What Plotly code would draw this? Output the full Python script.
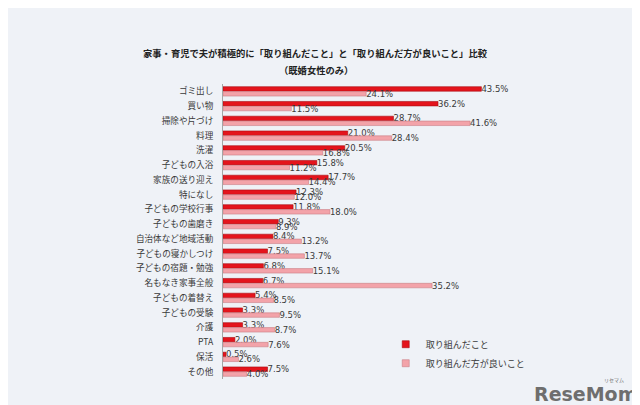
import plotly.graph_objects as go

# Data (percent)
categories = [
    "ゴミ出し", "買い物", "掃除や片づけ", "料理", "洗濯", "子どもの入浴",
    "家族の送り迎え", "特になし", "子どもの学校行事", "子どもの歯磨き",
    "自治体など地域活動", "子どもの寝かしつけ", "子どもの宿題・勉強",
    "名もなき家事全般", "子どもの着替え", "子どもの受験", "介護", "PTA",
    "保活", "その他",
]
did_values = [43.5, 36.2, 28.7, 21.0, 20.5, 15.8, 17.7, 12.3, 11.8, 9.3,
              8.4, 7.5, 6.8, 6.7, 5.4, 3.3, 3.3, 2.0, 0.5, 7.5]
better_values = [24.1, 11.5, 41.6, 28.4, 16.8, 11.2, 14.4, 12.0, 18.0, 8.9,
                 13.2, 13.7, 15.1, 35.2, 8.5, 9.5, 8.7, 7.6, 2.6, 4.0]
series_names = ["取り組んだこと", "取り組んだ方が良いこと"]

BG = "#eff2f7"
RED = "#e4141c"
PINK = "#f3a3a9"
TEXT = "#3a3a3a"
FONT = "Noto Sans CJK JP, sans-serif"
NUM_FONT = "DejaVu Sans, Noto Sans CJK JP, sans-serif"

L, R, T, B = 215, 127.5, 75.6, 33.6
W = 640 - L - R
H = 405 - T - B


def px(x, y):
    """Convert pixel position in the 640x405 canvas to paper coords."""
    return (x - L) / W, (405 - B - y) / H


fig = go.Figure()

for name, values, color, edge in [
    (series_names[0], did_values, RED, "#a80c12"),
    (series_names[1], better_values, PINK, "#c97d84"),
]:
    fig.add_trace(
        go.Bar(
            y=categories,
            x=values,
            name=name,
            orientation="h",
            showlegend=False,
            marker=dict(color=color, line=dict(color=edge, width=0.6)),
            texttemplate="%{x:.1f}%",
            textposition="outside",
            constraintext="none",
            cliponaxis=False,
            textfont=dict(family=NUM_FONT, size=8.5, color=TEXT),
        )
    )
    # small square legend markers
    fig.add_trace(
        go.Scatter(
            x=[None], y=[None], mode="markers", name=name,
            marker=dict(symbol="square", size=7, color=color,
                        line=dict(color=edge, width=0.6)),
        )
    )

# Title (two lines) and logo
tx, ty = px(308, 45)
fig.add_annotation(
    text="<b>家事・育児で夫が積極的に「取り組んだこと」と「取り組んだ方が良いこと」比較</b>",
    xref="paper", yref="paper", x=tx, y=ty, xanchor="center", yanchor="middle",
    showarrow=False, font=dict(family=FONT, size=9.3, color="#222222"),
)
tx, ty = px(308, 62)
fig.add_annotation(
    text="<b>（既婚女性のみ）</b>",
    xref="paper", yref="paper", x=tx, y=ty, xanchor="center", yanchor="middle",
    showarrow=False, font=dict(family=FONT, size=9.3, color="#222222"),
)
tx, ty = px(578, 386)
fig.add_annotation(
    text="<b>ReseMom</b>",
    xref="paper", yref="paper", x=tx, y=ty, xanchor="center", yanchor="middle",
    showarrow=False,
    font=dict(family="DejaVu Sans, sans-serif", size=19, color="#6e6e6e"),
)
tx, ty = px(607, 372)
fig.add_annotation(
    text="リセマム",
    xref="paper", yref="paper", x=tx, y=ty, xanchor="center", yanchor="middle",
    showarrow=False, font=dict(family=FONT, size=5, color="#6e6e6e"),
)

lx, ly = px(378, 322)
fig.update_layout(
    width=640,
    height=405,
    barmode="group",
    bargap=0.34,
    bargroupgap=0.08,
    paper_bgcolor=BG,
    plot_bgcolor=BG,
    margin=dict(l=L, r=R, t=T, b=B),
    font=dict(family=FONT, size=9, color=TEXT),
    showlegend=True,
    legend=dict(
        x=lx, y=ly, xanchor="left", yanchor="top",
        bgcolor="rgba(0,0,0,0)",
        font=dict(family=FONT, size=9, color=TEXT),
        itemwidth=30,
    ),
    xaxis=dict(
        range=[0, 50],
        showgrid=False, zeroline=False, showline=False,
        showticklabels=False, ticks="",
    ),
    yaxis=dict(
        autorange="reversed",
        categoryorder="array",
        categoryarray=categories,
        showline=True, linecolor="#a5a5a5", linewidth=1,
        showgrid=False, ticks="", ticklabelstandoff=7,
        automargin=False,
        tickfont=dict(family=FONT, size=8.6, color=TEXT),
    ),
)

fig.write_html("out.html")
